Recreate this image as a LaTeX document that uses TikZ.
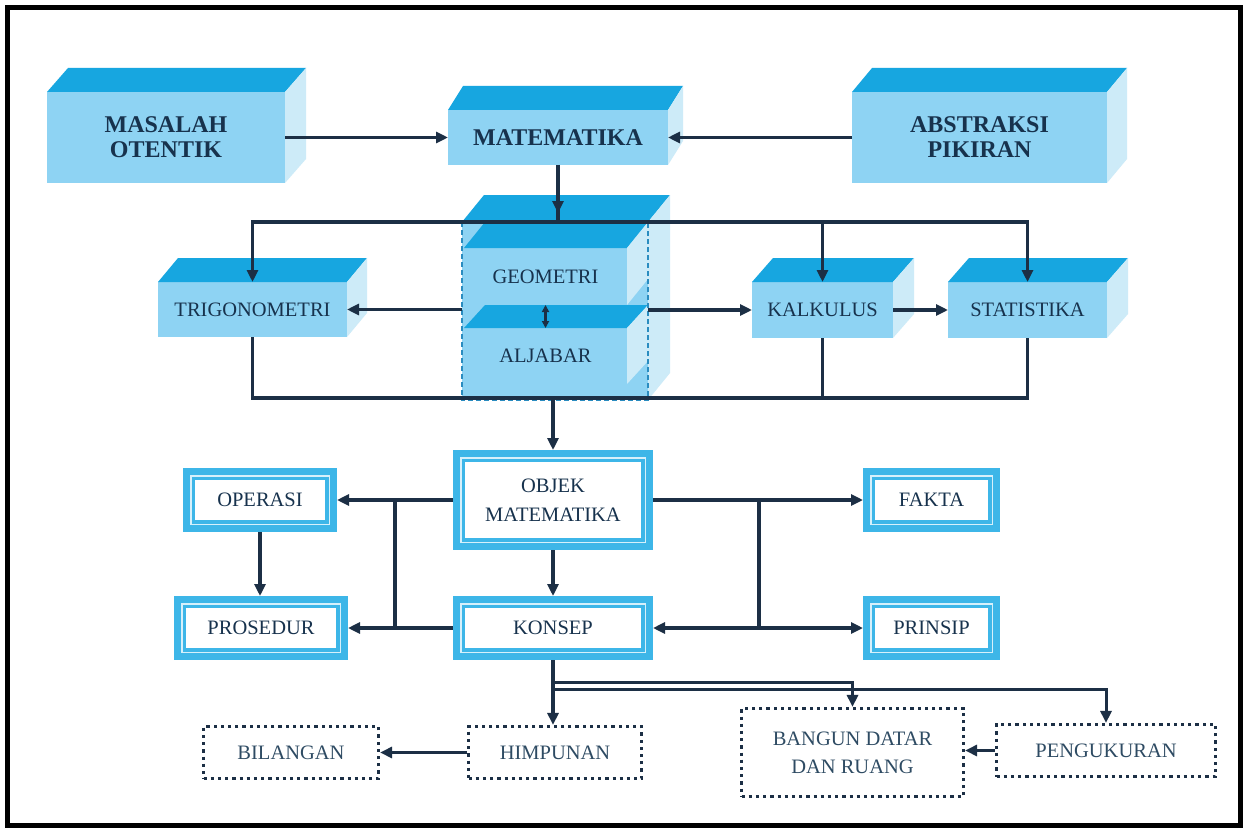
\documentclass[tikz,border=0pt]{standalone}
\usepackage{fontspec}
\setmainfont{Liberation Serif}
\usetikzlibrary{arrows.meta,calc}
\definecolor{topc}{HTML}{17A6E0}
\definecolor{frontc}{HTML}{8ED3F3}
\definecolor{sidec}{HTML}{CDEBF8}
\definecolor{txt}{HTML}{17324D}
\definecolor{lin}{HTML}{1C2F45}
\definecolor{frm}{HTML}{3DB6E8}
\definecolor{frmin}{HTML}{D6F0FB}
\definecolor{dashc}{HTML}{2A8CC0}
\definecolor{dtxt}{HTML}{2E4B63}
\newcommand{\cubefaces}[3]{%
  \fill[topc] (#1.north west) -- ++(#2,-#3) -- ([shift={(#2,-#3)}]#1.north east) -- (#1.north east) -- cycle;
  \fill[sidec] (#1.north east) -- ++(#2,-#3) -- ([shift={(#2,-#3)}]#1.south east) -- (#1.south east) -- cycle;}
\newcommand{\outerband}[1]{%
  \draw[frm, line width=7pt] ([xshift=3.5pt,yshift=-3.5pt]#1.north west) rectangle ([xshift=-3.5pt,yshift=3.5pt]#1.south east);}
\tikzset{
  front/.style={fill=frontc, inner sep=0pt, outer sep=0pt, text=txt, align=center},
  bigtxt/.style={font=\fontsize{24}{25}\selectfont\bfseries},
  smalltxt/.style={font=\fontsize{20.5}{29}\selectfont},
  dblbox/.style={draw=frm, line width=3.5pt, fill=white, inner sep=0pt, outer sep=10.25pt, text=txt, align=center, font=\fontsize{20.5}{29}\selectfont, preaction={draw=frmin, line width=6.5pt}},
  dotbox/.style={draw=lin, line width=3.2pt, dash pattern=on 3.2pt off 4pt, inner sep=0pt, outer sep=1.6pt, text=dtxt, align=center, font=\fontsize{20.5}{28}\selectfont},
  conn/.style={draw=lin, line width=3.5pt},
  arr/.style={conn, -{Triangle[length=12pt,width=11pt]}},
  darr/.style={conn, {Triangle[length=12pt,width=11pt]}-{Triangle[length=12pt,width=11pt]}},
}
\begin{document}
\begin{tikzpicture}[x=1pt,y=-1pt]
\useasboundingbox (0,0) rectangle (1246,829);
\fill[white] (0,0) rectangle (1246,829);
\draw[line width=5pt] (7.5,7.5) rectangle (1240.5,825.5);

% top cuboids
\node[front,bigtxt,minimum width=238,minimum height=91] (mas) at (166,137.5) {MASALAH\\OTENTIK};
\cubefaces{mas}{21}{24}
\node[front,bigtxt,minimum width=220,minimum height=55] (mat) at (558,137.5) {MATEMATIKA};
\cubefaces{mat}{15}{24}
\node[front,bigtxt,minimum width=255,minimum height=91] (abs) at (979.5,137.5) {ABSTRAKSI\\PIKIRAN};
\cubefaces{abs}{20}{24}

% second row cuboids
\node[front,smalltxt,minimum width=189,minimum height=55] (trig) at (252.5,309.5) {TRIGONOMETRI};
\cubefaces{trig}{20}{24}
\node[front,smalltxt,minimum width=141,minimum height=56] (kalk) at (822.5,310) {KALKULUS};
\cubefaces{kalk}{21}{24}
\node[front,smalltxt,minimum width=159,minimum height=56] (stat) at (1027.5,310) {STATISTIKA};
\cubefaces{stat}{21}{24}

% geometri / aljabar block
\node[front,minimum width=186,minimum height=178] (blk) at (555,311) {};
\cubefaces{blk}{22}{27}
\node[front,smalltxt,minimum width=163,minimum height=57] (geo) at (545.5,276.5) {GEOMETRI};
\cubefaces{geo}{21}{26}
\node[front,smalltxt,minimum width=163,minimum height=56] (alj) at (545.5,356) {ALJABAR};
\cubefaces{alj}{21}{23}
\draw[dashc, line width=2.2pt, dash pattern=on 5pt off 3pt] (blk.north west) rectangle (blk.south east);
\draw[conn,line width=2.2pt,{Triangle[length=7pt,width=7pt]}-{Triangle[length=7pt,width=7pt]}] (geo.south) -- (alj.north);

% bus coordinates
\coordinate (bT) at (556,222);
\coordinate (bB) at (556,398);

% top connectors
\draw[arr] (mas.east) -- (mat.west);
\draw[arr] (abs.west) -- (mat.east);
\draw[conn] (mat.south) -- (mat.south |- bT);
\draw[arr] (mat.south) -- ([yshift=9pt]mat.south |- bT);
\draw[darr] (trig.north) -- (trig.north |- bT) -- (stat.north |- bT) -- (stat.north);
\draw[arr] (kalk.north |- bT) -- (kalk.north);

% middle row connectors
\draw[arr] (trig.east -| blk.west) -- (trig.east);
\draw[arr] (kalk.west -| blk.east) -- (kalk.west);
\draw[arr] (kalk.east) -- (stat.west);

% lower bus
\draw[conn] (trig.south) -- (trig.south |- bB) -- (stat.south |- bB) -- (stat.south);
\draw[conn] (kalk.south) -- (kalk.south |- bB);

% objek level
\node[dblbox,minimum width=179.5,minimum height=79.5] (obj) at (553,500) {OBJEK\\MATEMATIKA};
\outerband{obj}
\node[dblbox,minimum width=133.5,minimum height=43.5] (oper) at (260,500) {OPERASI};
\outerband{oper}
\node[dblbox,minimum width=153.5,minimum height=43.5] (pros) at (261,628) {PROSEDUR};
\outerband{pros}
\node[dblbox,minimum width=179.5,minimum height=43.5] (kon) at (553,628) {KONSEP};
\outerband{kon}
\node[dblbox,minimum width=116.5,minimum height=43.5] (fak) at (931.5,500) {FAKTA};
\outerband{fak}
\node[dblbox,minimum width=116.5,minimum height=43.5] (prin) at (931.5,628) {PRINSIP};
\outerband{prin}

\draw[arr] (obj.north |- bB) -- (obj.north);
\draw[arr] (obj.west) -- (oper.east);
\coordinate (lj1) at (395,500);
\coordinate (lj2) at (395,628);
\draw[conn] (lj1) -- (lj2);
\draw[arr] (kon.west) -- (pros.east);
\draw[arr] (obj.east) -- (fak.west);
\coordinate (rj1) at (759,500);
\coordinate (rj2) at (759,628);
\draw[conn] (rj1) -- (rj2);
\draw[darr] (kon.east) -- (prin.west);
\draw[arr] (oper.south) -- (oper.south |- pros.north);
\draw[arr] (obj.south) -- (kon.north);

% bottom dotted boxes
\node[dotbox,minimum width=175,minimum height=52] (bil) at (291,752.5) {BILANGAN};
\node[dotbox,minimum width=173,minimum height=52] (himp) at (555,752.5) {HIMPUNAN};
\node[dotbox,minimum width=222,minimum height=88] (bang) at (852.5,752.5) {BANGUN DATAR\\DAN RUANG};
\node[dotbox,minimum width=219,minimum height=52] (peng) at (1106,750.5) {PENGUKURAN};

\draw[arr] (kon.south) -- (kon.south |- himp.north);
\coordinate (d1) at (553,682);
\coordinate (d2) at (553,689.5);
\draw[arr,line width=3pt] (d1) -- (bang.north |- d1) -- (bang.north);
\draw[arr,line width=3pt] (d2) -- (peng.north |- d2) -- (peng.north);
\draw[arr] (himp.west) -- (bil.east);
\draw[arr] (peng.west) -- (peng.west -| bang.east);
\end{tikzpicture}
\end{document}
